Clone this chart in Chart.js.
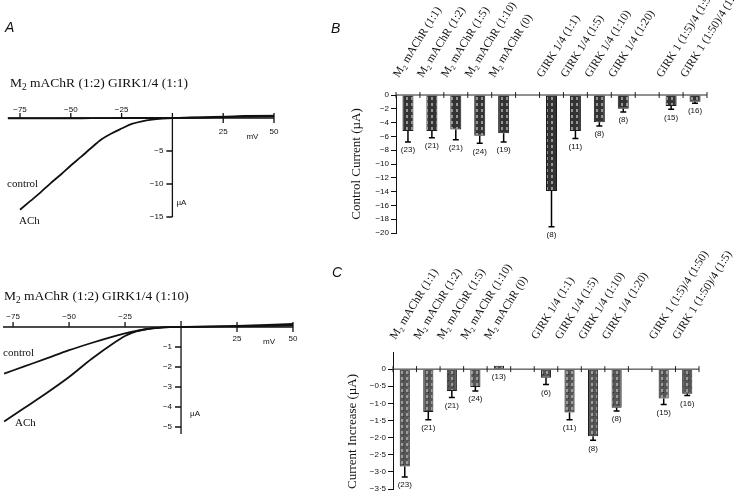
<!DOCTYPE html>
<html><head><meta charset="utf-8">
<script src="https://cdn.jsdelivr.net/npm/chart.js@4.4.1/dist/chart.umd.min.js"></script>
<style>
html,body{margin:0;padding:0;background:#fff;}
#wrap{position:relative;width:750px;height:496px;overflow:hidden;background:#fff;}
canvas{position:absolute;}
.t{position:absolute;white-space:nowrap;font-family:"Liberation Serif","Times New Roman",serif;color:#111;line-height:1;}
.p{position:absolute;font-family:"Liberation Sans",Arial,sans-serif;font-style:italic;font-size:14px;color:#111;line-height:1;}
sub{font-size:70%;vertical-align:-3px;line-height:0;}
</style></head><body>
<div id="wrap">
 <canvas id="a1" width="320" height="240" style="left:0;top:0"></canvas>
 <canvas id="a2" width="320" height="256" style="left:0;top:240px"></canvas>
 <canvas id="b" width="430" height="250" style="left:320px;top:0"></canvas>
 <canvas id="c" width="430" height="246" style="left:320px;top:250px"></canvas>
 <div class="p" style="left:5px;top:20px">A</div>
 <div class="p" style="left:331px;top:21px">B</div>
 <div class="p" style="left:332px;top:265px">C</div>
 <div class="t" style="left:10px;top:76px;font-size:13.5px">M<sub>2</sub> mAChR (1:2) GIRK1/4 (1:1)</div>
 <div class="t" style="left:4px;top:289px;font-size:13.5px">M<sub>2</sub> mAChR (1:2) GIRK1/4 (1:10)</div>
 <div class="t" style="left:7px;top:178px;font-size:11px">control</div>
 <div class="t" style="left:19px;top:215px;font-size:11px">ACh</div>
 <div class="t" style="left:3px;top:347px;font-size:11px">control</div>
 <div class="t" style="left:15px;top:417px;font-size:11px">ACh</div>
</div>
<script>
// ---------- Panel A data (I–V curves) ----------
const topVm   = [-75,-70,-65,-60,-55,-50,-45,-40,-35,-30,-25,-20,-15,-10,-5,0,10,20,30,40,50];
const topACh  = [-13.9,-12.6,-11.3,-9.9,-8.6,-7.2,-5.9,-4.55,-3.25,-2.35,-1.6,-0.9,-0.5,-0.25,-0.1,0,0.08,0.15,0.25,0.35,0.45];
const topCtrlVm = [-81,-60,-40,-20,0,25,50];
const topCtrl   = [-0.05,-0.05,-0.03,0,0,0.12,0.25];
const botVm   = [-79,-70,-60,-50,-40,-30,-25,-20,-15,-10,-5,0,25,50];
const botCtrl = [-2.33,-1.97,-1.57,-1.16,-0.8,-0.47,-0.32,-0.2,-0.1,-0.04,-0.01,0,0.03,0.08];
const botACh  = [-4.72,-4.05,-3.3,-2.5,-1.6,-0.8,-0.45,-0.22,-0.1,-0.04,-0.01,0,0.06,0.15];
const topXTicks = [-75,-50,-25,25,50];
const topXLabels = ['\u221275','\u221250','\u221225','25','50'];
const topYTicks = [-5,-10,-15];
const topYLabels = ['\u22125','\u221210','\u221215'];
const botXTicks = [-75,-50,-25,25,50];
const botXLabels = ['\u221275','\u221250','\u221225','25','50'];
const botYTicks = [-1,-2,-3,-4,-5];
const botYLabels = ['\u22121','\u22122','\u22123','\u22124','\u22125'];

// ---------- Panels B and C data (bars) ----------
const catLabels = ['M\u2082 mAChR (1:1)','M\u2082 mAChR (1:2)','M\u2082 mAChR (1:5)','M\u2082 mAChR (1:10)','M\u2082 mAChR (0)','',
  'GIRK 1/4 (1:1)','GIRK 1/4 (1:5)','GIRK 1/4 (1:10)','GIRK 1/4 (1:20)','','GIRK 1 (1:5)/4 (1:50)','GIRK 1 (1:50)/4 (1:5)'];
const ctrlCurrent = [-5.2,-5.2,-5.0,-5.9,-5.55,null,-13.9,-5.2,-3.96,-1.98,null,-1.6,-0.97];
const ctrlSem     = [1.6,1.0,1.5,1.1,1.25,null,5.2,1.1,0.55,0.48,null,0.48,0.23];
const ctrlN       = ['(23)','(21)','(21)','(24)','(19)','','(8)','(11)','(8)','(8)','','(15)','(16)'];
const incCurrent  = [-2.84,-1.25,-0.64,-0.52,0.1,null,-0.25,-1.27,-1.96,-1.13,null,-0.86,-0.72];
const incSem      = [0.31,0.23,0.19,0.12,0,null,0.2,0.21,0.12,0.09,null,0.17,0.05];
const incN        = ['(23)','(21)','(21)','(24)','(13)','','(6)','(11)','(8)','(8)','','(15)','(16)'];
const bTickVals   = [0,-2,-4,-6,-8,-10,-12,-14,-16,-18,-20];
const bTickLabels = ['0','\u22122','\u22124','\u22126','\u22128','\u221210','\u221212','\u221214','\u221216','\u221218','\u221220'];
const cTickVals   = [0.5,0,-0.5,-1,-1.5,-2,-2.5,-3,-3.5];
const cTickLabels = ['','0','\u22120\u00b75','\u22121\u00b70','\u22121\u00b75','\u22122\u00b70','\u22122\u00b75','\u22123\u00b70','\u22123\u00b75'];

const SANS = '"Liberation Sans", Arial, sans-serif';
const SERIF = '"Liberation Serif", "Times New Roman", serif';

const ivAxes = {
  id:'ivAxes',
  afterDraw(chart, args, o){
    const {ctx, scales:{x,y}} = chart;
    const y0 = y.getPixelForValue(0), x0 = x.getPixelForValue(0);
    ctx.save();
    ctx.strokeStyle='#111'; ctx.lineWidth=1.3;
    ctx.beginPath();
    ctx.moveTo(x.left,y0); ctx.lineTo(x.right,y0);
    ctx.moveTo(x0,y0-o.vTop); ctx.lineTo(x0,y.getPixelForValue(o.yMin)+o.vBot);
    o.xTicks.forEach(v=>{const px=x.getPixelForValue(v); ctx.moveTo(px,y0-5); ctx.lineTo(px, v>0? y0+5 : y0);});
    o.yTicks.forEach(v=>{const py=y.getPixelForValue(v); ctx.moveTo(x0-6,py); ctx.lineTo(x0,py);});
    ctx.stroke();
    ctx.fillStyle='#111'; ctx.font='8px '+SANS; ctx.textAlign='center'; ctx.textBaseline='middle';
    o.xTicks.forEach((v,i)=>{const px=x.getPixelForValue(v); ctx.fillText(o.xLabels[i], px, v<0? y0-o.negOff : y0+o.posOff);});
    ctx.fillText('mV', x.getPixelForValue(o.mvX), y0+o.mvOff);
    ctx.textAlign='right';
    o.yTicks.forEach((v,i)=>{ctx.fillText(o.yLabels[i], x0-9, y.getPixelForValue(v));});
    ctx.textAlign='left';
    ctx.fillText('\u00b5A', x0+o.uaDx, y.getPixelForValue(o.uaY));
    ctx.restore();
  }
};

function ivChart(id, sets, xmin, xmax, ymin, ymax, pad, axOpts){
  new Chart(document.getElementById(id), {
    type:'line',
    data:{datasets: sets.map(s=>({data:s[0].map((v,i)=>({x:v,y:s[1][i]})), borderColor:'#111', borderWidth:1.8,
      pointRadius:0, cubicInterpolationMode:'monotone', fill:false}))},
    options:{responsive:false, animation:false, devicePixelRatio:1, layout:{padding:pad},
      plugins:{legend:{display:false}, tooltip:{enabled:false}, ivAxes:axOpts},
      scales:{x:{type:'linear', min:xmin, max:xmax, display:false}, y:{type:'linear', min:ymin, max:ymax, display:false}}},
    plugins:[ivAxes]
  });
}

ivChart('a1', [[topCtrlVm, topCtrl],[topVm, topACh]], -81, 50, -15, 0.5,
  {left:7.8, right:46, top:114.7, bottom:23},
  {xTicks:topXTicks, xLabels:topXLabels, yTicks:topYTicks, yLabels:topYLabels, yMin:-15, vTop:5, vBot:0,
   negOff:8, posOff:14, mvX:39.4, mvOff:19, uaY:-12.9, uaDx:4});
ivChart('a2', [[botVm, botCtrl],[botVm, botACh]], -79.5, 50, -5, 0.2,
  {left:3, right:27, top:83, bottom:69},
  {xTicks:botXTicks, xLabels:botXLabels, yTicks:botYTicks, yLabels:botYLabels, yMin:-5, vTop:6, vBot:7,
   negOff:10, posOff:12, mvX:39.3, mvOff:15, uaY:-4.35, uaDx:9});

function makePattern(canvasId, bg, fg, dk){
  const c=document.createElement('canvas'); c.width=5; c.height=6;
  const g=c.getContext('2d'); g.fillStyle=bg; g.fillRect(0,0,5,6);
  g.fillStyle=fg; g.fillRect(1,1,2,3);
  if(dk){g.fillStyle=dk; g.fillRect(3,4,1,1);}
  return document.getElementById(canvasId).getContext('2d').createPattern(c,'repeat');
}

const barDecor = {
  id:'barDecor',
  afterDatasetsDraw(chart, args, o){
    const {ctx, scales:{x,y}} = chart;
    const meta = chart.getDatasetMeta(0);
    const y0 = y.getPixelForValue(0);
    ctx.save();
    ctx.strokeStyle='#222'; ctx.lineWidth=1;
    ctx.beginPath(); ctx.moveTo(x.left,y0); ctx.lineTo(x.right,y0);
    const N = x.ticks.length, w=(x.right-x.left)/N;
    for(let i=0;i<=N;i++){const px=x.left+i*w; ctx.moveTo(px,y0-3); ctx.lineTo(px,y0+3);}
    ctx.stroke();
    ctx.strokeStyle='#000'; ctx.lineWidth=1.5;
    ctx.fillStyle='#111'; ctx.font='8px '+SANS; ctx.textAlign='center'; ctx.textBaseline='middle';
    meta.data.forEach((el,i)=>{
      const v=o.vals[i]; if(v==null) return;
      const bx=el.x; let yEnd=Math.max(y0, y.getPixelForValue(v));
      if(o.sem[i]){
        const ye=y.getPixelForValue(v-o.sem[i]);
        ctx.beginPath(); ctx.moveTo(bx,y.getPixelForValue(v)); ctx.lineTo(bx,ye);
        ctx.moveTo(bx-3,ye); ctx.lineTo(bx+3,ye); ctx.stroke(); yEnd=ye;
      }
      ctx.fillText(o.n[i], bx, yEnd+o.nOff);
    });
    ctx.restore();
  }
};

function barChart(id, vals, sem, nl, pattern, ymin, ymax, tv, tl, pad, xh, xpad, yw, title, tpad, talign, barPct){
  new Chart(document.getElementById(id), {
    type:'bar',
    data:{labels:catLabels, datasets:[{data:vals, backgroundColor:pattern, borderColor:'#1a1a1a', borderWidth:1,
      barPercentage:barPct, categoryPercentage:1}]},
    options:{responsive:false, animation:false, devicePixelRatio:1, layout:{padding:pad},
      plugins:{legend:{display:false}, tooltip:{enabled:false}, barDecor:{vals:vals, sem:sem, n:nl, nOff:8}},
      scales:{
        x:{position:'top', grid:{display:false}, border:{display:false},
           ticks:{autoSkip:false, minRotation:58, maxRotation:58, padding:xpad, color:'#111', font:{family:SERIF, size:11.5}},
           afterFit:s=>{s.height=xh; s.paddingLeft=0; s.paddingRight=0;}},
        y:{min:ymin, max:ymax,
           afterBuildTicks:s=>{s.ticks=tv.map(v=>({value:v}));},
           ticks:{callback:(v,i)=>tl[i], color:'#111', padding:2, font:{family:SANS, size:8}},
           grid:{drawOnChartArea:false, tickLength:5, color:c=>(c.tick && c.tick.value>0)?'rgba(0,0,0,0)':'#111'},
           border:{display:true, color:'#111', width:1},
           title:{display:true, text:title, color:'#111', align:talign, font:{family:SERIF, size:13}, padding:{top:tpad, bottom:0}},
           afterFit:s=>{s.width=yw; s.paddingTop=0; s.paddingBottom=0;}}
      }},
    plugins:[barDecor]
  });
}

barChart('b', ctrlCurrent, ctrlSem, ctrlN, makePattern('b','#333333','#959595'), -20, 0, bTickVals, bTickLabels,
  {left:0, top:0, right:43, bottom:17}, 95, 7, 76, 'Control Current (\u00b5A)', 29, 'center', 0.46);
barChart('c', incCurrent, incSem, incN, makePattern('c','#555555','#9c9c9c','#2a2a2a'), -3.5, 0.5, cTickVals, cTickLabels,
  {left:0, top:0, right:51, bottom:7}, 102, 2, 73, 'Current Increase (\u00b5A)', 25, 'start', 0.43);
</script>
</body></html>
